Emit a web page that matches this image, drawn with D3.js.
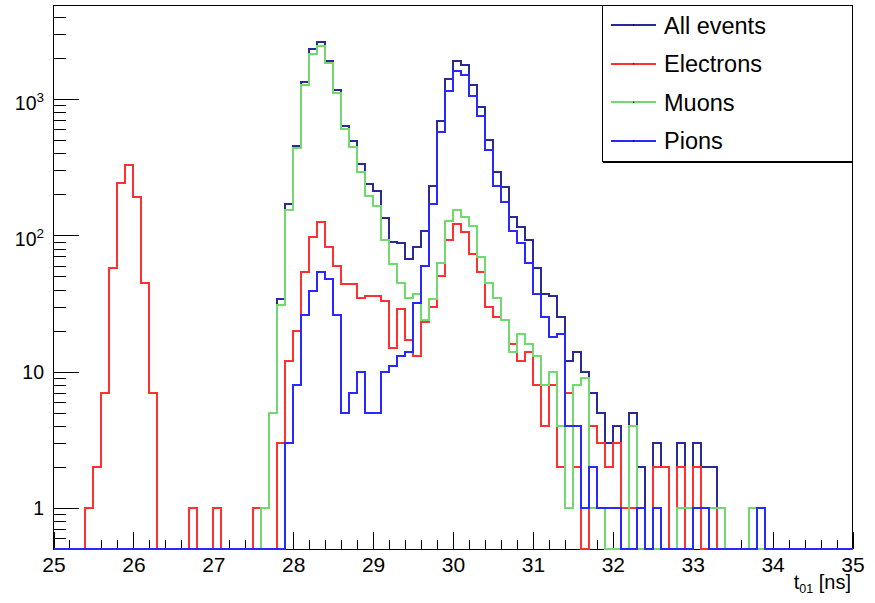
<!DOCTYPE html>
<html>
<head>
<meta charset="utf-8">
<script src="https://cdn.jsdelivr.net/npm/d3@7"></script>
<style>
body{margin:0;background:#fff;}
text{font-family:"Liberation Sans",Arial,Helvetica,sans-serif;fill:#000;}
</style>
</head>
<body>
<div id="chart"></div>
<script>

//====================DATA===================

// 100 bins of 0.1 ns from 25 to 35
const binLow = 25;
const binWidth = 0.1;

const allEvents = [
0,0,0,0,1,2,7,58,244,327,
190,45,7,0,0,0,0,1,0,0,
1,0,0,0,0,1,1,5,34,170,
455,1328,2318,2608,1910,1166,638,493,333,237,
212,135,90,88,67,82,107,232,691,1397,
1902,1778,1268,880,501,294,228,136,115,92,
58,37,36,25,12,14,10,7,5,3,
4,1,5,2,0,3,2,0,3,1,
3,2,2,1,0,0,0,1,1,0,
0,0,0,0,0,0,0,0,0,0];

const electrons = [
0,0,0,0,1,2,7,58,244,327,
190,45,7,0,0,0,0,1,0,0,
1,0,0,0,0,1,0,0,3,12,
20,54,97,126,82,60,44,44,35,36,
36,33,15,29,17,13,23,30,50,93,
121,106,73,54,30,25,24,16,12,14,
8,4,8,2,7,2,0,4,3,2,
3,1,1,0,0,2,2,0,2,0,
2,0,1,0,0,0,0,0,0,0,
0,0,0,0,0,0,0,0,0,0];

const muons = [
0,0,0,0,0,0,0,0,0,0,
0,0,0,0,0,0,0,0,0,0,
0,0,0,0,0,0,1,5,31,154,
440,1268,2142,2450,1840,1104,607,448,294,196,
165,93,62,45,35,37,24,34,63,128,
154,137,117,69,45,35,24,14,19,16,
13,8,10,4,1,8,9,1,1,0,
0,0,4,0,0,0,0,0,1,1,
1,1,1,1,0,0,0,1,0,0,
0,0,0,0,0,0,0,0,0,0];

const pions = [
0,0,0,0,0,0,0,0,0,0,
0,0,0,0,0,0,0,0,0,0,
0,0,0,0,0,0,0,0,0,3,
8,26,39,54,48,26,5,7,10,5,
5,10,11,13,14,32,60,170,571,1146,
1616,1503,1059,755,424,232,177,107,88,63,
37,25,18,19,4,4,1,2,1,1,
1,0,0,1,0,1,0,0,0,0,
1,1,0,0,0,0,0,0,1,0,
0,0,0,0,0,0,0,0,0,0];

const seriesNames = ['All events', 'Electrons', 'Muons', 'Pions'];
const seriesColors = ['#2a2a96', '#ff3030', '#70d970', '#2828ff'];
const xTicks = [25, 26, 27, 28, 29, 30, 31, 32, 33, 34, 35];
const yTicks = [1, 10, 100, 1000];

//====================STRUCTURE===================

const width = 875;
const height = 603;
const frame = {left:53.5, right:852.5, top:5, bottom:549};

const x = d3.scaleLinear()
.domain([25, 35])
.range([frame.left, frame.right])

const y = d3.scaleLog()
.domain([0.5, 4900])
.range([frame.bottom, frame.top])

const svg = d3.select('#chart')
.append('svg')
.attr('width', width)
.attr('height', height)

svg.append('defs')
.append('clipPath')
.attr('id', 'clip-frame')
.append('rect')
.attr('x', frame.left)
.attr('y', frame.top)
.attr('width', frame.right - frame.left)
.attr('height', frame.bottom - frame.top + 1.5)

//================AXES==========================================

const xMinor = d3.range(0, 51).map(i => binLow + i * 0.2)

svg.append('g')
.attr('transform', `translate(0,${frame.bottom})`)
.call(d3.axisBottom(x).tickValues(xMinor).tickSize(-9).tickFormat(''))
.call(g => g.select('.domain').remove())

const xAxis = svg.append('g')
.attr('transform', `translate(0,${frame.bottom})`)
.call(d3.axisBottom(x).tickValues(xTicks).tickSize(-17).tickFormat(d3.format('d')))
.call(g => g.select('.domain').remove())

xAxis.selectAll('text')
.attr('y', 22.5)
.attr('dy', 0)
.attr('font-size', 21)
.attr('font-family', null)

let yMinor = [];
[-1, 0, 1, 2, 3].forEach(e => {
	d3.range(2, 10).forEach(k => {
		const v = k * Math.pow(10, e);
		if(v > 0.5 && v < 4900) yMinor.push(v)
	})
})

svg.append('g')
.attr('transform', `translate(${frame.left},0)`)
.call(d3.axisLeft(y).tickValues(yMinor).tickSize(-12).tickFormat(''))
.call(g => g.select('.domain').remove())

svg.append('g')
.attr('transform', `translate(${frame.left},0)`)
.call(d3.axisLeft(y).tickValues(yTicks).tickSize(-25).tickFormat(''))
.call(g => g.select('.domain').remove())

svg.selectAll('.tick line')
.attr('stroke', '#000')
.attr('shape-rendering', 'crispEdges')

const yLabels = svg.append('g')
.selectAll('text')
.data(yTicks)
.enter()
.append('text')
.attr('x', 44)
.attr('y', d => d < 100 ? y(d) + 7 : y(d) + 11)
.attr('text-anchor', 'end')
.attr('font-size', 19.5)
.text(d => d < 100 ? d : '10')

yLabels
.filter(d => d >= 100)
.append('tspan')
.attr('dy', -8.5)
.attr('font-size', 13.5)
.text(d => Math.round(Math.log10(d)))

// axis title
const xTitle = svg.append('text')
.attr('x', 851)
.attr('y', 589)
.attr('text-anchor', 'end')
.attr('font-size', 20)
.text('t')

xTitle.append('tspan')
.attr('dy', 4)
.attr('font-size', 12.5)
.text('01')

xTitle.append('tspan')
.attr('dy', -4)
.text(' [ns]')

//================FRAME======================================

svg.append('rect')
.attr('x', frame.left)
.attr('y', frame.top)
.attr('width', frame.right - frame.left)
.attr('height', frame.bottom - frame.top)
.attr('fill', 'none')
.attr('stroke', '#000')
.attr('stroke-width', 1)
.attr('shape-rendering', 'crispEdges')

//================HISTOGRAMS======================================

const histLine = d3.line()
.x(d => x(d[0]))
.y(d => y(Math.max(d[1], 0.5)))
.curve(d3.curveStepAfter)

const toSteps = values => {
	let pts = values.map((v, i) => [binLow + i * binWidth, v]);
	pts.push([binLow + values.length * binWidth, values[values.length - 1]]);
	return pts;
}

const series = [allEvents, electrons, muons, pions];

svg.append('g')
.attr('clip-path', 'url(#clip-frame)')
.selectAll('path')
.data(series)
.enter()
.append('path')
.attr('d', d => histLine(toSteps(d)))
.attr('fill', 'none')
.attr('stroke', (d, i) => seriesColors[i])
.attr('stroke-width', 2)
.attr('shape-rendering', 'crispEdges')

//================LEGEND======================================

const legend = svg.append('g')

legend.append('rect')
.attr('x', 602.5)
.attr('y', 5)
.attr('width', 250)
.attr('height', 156.5)
.attr('fill', '#fff')
.attr('stroke', '#000')
.attr('shape-rendering', 'crispEdges')

legend.append('line')
.attr('x1', 603)
.attr('x2', 853)
.attr('y1', 162.5)
.attr('y2', 162.5)
.attr('stroke', '#000')
.attr('shape-rendering', 'crispEdges')

const entries = legend.selectAll('g.entry')
.data(seriesNames)
.enter()
.append('g')
.attr('class', 'entry')
.attr('transform', (d, i) => `translate(0,${25 + i * 38.6})`)

entries.append('line')
.attr('x1', 611)
.attr('x2', 656)
.attr('stroke', (d, i) => seriesColors[i])
.attr('stroke-width', 2)
.attr('shape-rendering', 'crispEdges')

entries.append('rect')
.attr('x', 633)
.attr('y', -0.5)
.attr('width', 1.2)
.attr('height', 1.2)
.attr('fill', '#000')

entries.append('text')
.attr('x', 664)
.attr('y', 8.5)
.attr('font-size', 23.5)
.text(d => d)

</script>
</body>
</html>
